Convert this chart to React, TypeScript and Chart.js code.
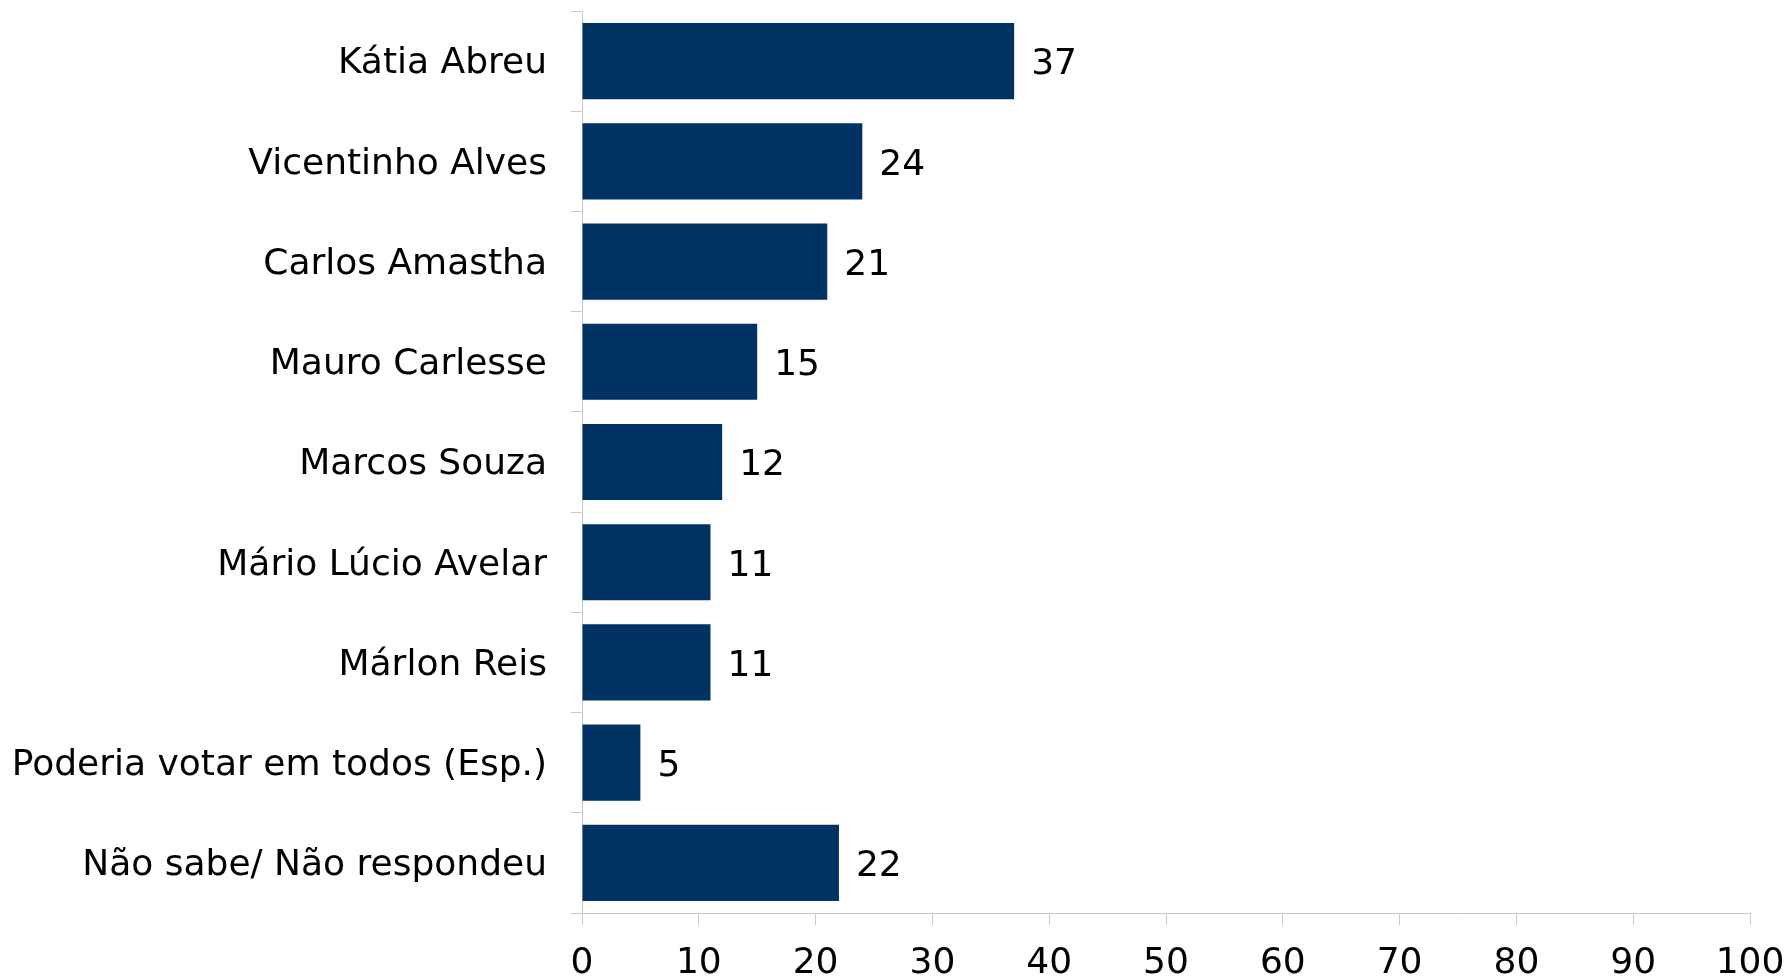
import React, { useEffect, useRef } from "react";
import { Chart, registerables } from "chart.js";

Chart.register(...registerables);

const categories = [
  "Kátia Abreu",
  "Vicentinho Alves",
  "Carlos Amastha",
  "Mauro Carlesse",
  "Marcos Souza",
  "Mário Lúcio Avelar",
  "Márlon Reis",
  "Poderia votar em todos (Esp.)",
  "Não sabe/ Não respondeu",
];
const values = [37, 24, 21, 15, 12, 11, 11, 5, 22];
const xTicks = [0, 10, 20, 30, 40, 50, 60, 70, 80, 90, 100];

const FONT = "'DejaVu Sans', Verdana, sans-serif";
const FONT_SIZE = 36;
const BAR_COLOR = "#003263";
const AXIS_COLOR = "#c8c8c8";

const valueLabels = {
  id: "valueLabels",
  afterDatasetsDraw(chart: any) {
    const ctx = chart.ctx;
    const meta = chart.getDatasetMeta(0);
    ctx.save();
    ctx.font = `${FONT_SIZE}px ${FONT}`;
    ctx.fillStyle = "#000000";
    ctx.textAlign = "left";
    ctx.textBaseline = "middle";
    meta.data.forEach((bar: any, i: number) => {
      ctx.fillText(String(values[i]), bar.x + 17, bar.y + 4);
    });
    ctx.restore();
  },
};

export default function App() {
  const ref = useRef<HTMLCanvasElement>(null);
  useEffect(() => {
    document.body.style.margin = "0";
    const chart = new Chart(ref.current!, {
      type: "bar",
      data: {
        labels: categories,
        datasets: [
          {
            data: values,
            backgroundColor: BAR_COLOR,
            barPercentage: 0.76,
            categoryPercentage: 1,
          },
        ],
      },
      options: {
        indexAxis: "y",
        animation: false,
        responsive: false,
        layout: { padding: { left: 0, right: 37, top: 11, bottom: 0 } },
        plugins: { legend: { display: false }, tooltip: { enabled: false } },
        scales: {
          x: {
            min: 0,
            max: 100,
            afterBuildTicks: (scale: any) => {
              scale.ticks = xTicks.map((v) => ({ value: v }));
            },
            afterFit: (scale: any) => {
              scale.height = 64;
              scale.paddingLeft = 0;
              scale.paddingRight = 0;
            },
            grid: {
              drawOnChartArea: false,
              drawTicks: true,
              tickLength: 12,
              color: AXIS_COLOR,
            },
            border: { color: AXIS_COLOR, width: 1 },
            ticks: {
              font: { family: FONT, size: FONT_SIZE },
              color: "#000000",
              padding: 17,
              maxRotation: 0,
              autoSkip: false,
            },
          },
          y: {
            afterFit: (scale: any) => {
              scale.width = 582;
              scale.paddingTop = 0;
              scale.paddingBottom = 0;
            },
            grid: {
              drawOnChartArea: false,
              drawTicks: true,
              tickLength: 11,
              color: AXIS_COLOR,
              offset: true,
            },
            border: { color: AXIS_COLOR, width: 1 },
            ticks: {
              font: { family: FONT, size: FONT_SIZE },
              color: "#000000",
              padding: 24,
              labelOffset: 3,
              autoSkip: false,
            },
          },
        },
      },
      plugins: [valueLabels],
    });
    return () => chart.destroy();
  }, []);
  return (
    <div style={{ position: "fixed", left: 0, top: 0, width: 1787, height: 977, background: "#fff" }}>
      <canvas ref={ref} width={1787} height={977} style={{ width: 1787, height: 977 }} />
    </div>
  );
}
